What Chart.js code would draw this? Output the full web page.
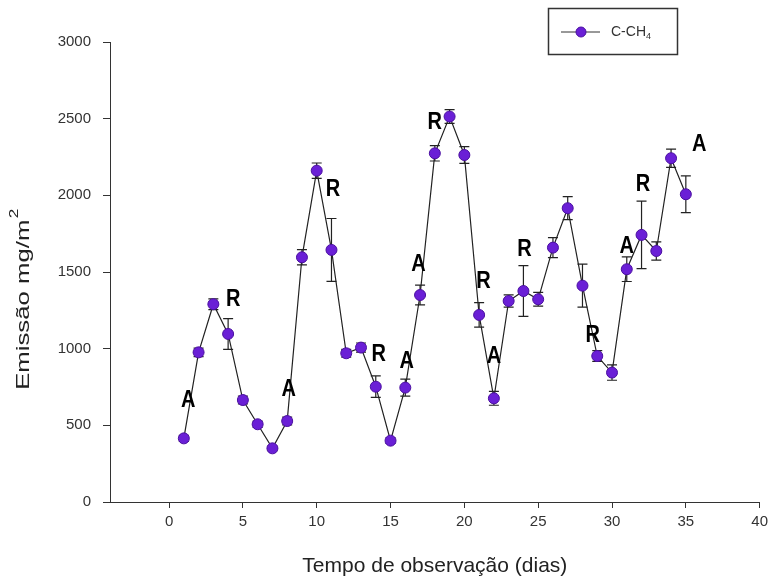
<!DOCTYPE html>
<html>
<head>
<meta charset="utf-8">
<script src="https://cdn.jsdelivr.net/npm/chart.js@4/dist/chart.umd.min.js"></script>
<style>
  html, body { margin: 0; padding: 0; background: #fff; }
  #wrap { width: 773px; height: 579px; }
</style>
</head>
<body>
<div id="wrap"><canvas id="chart" width="773" height="579"></canvas></div>
<script>
// dias de observação
const days = [1, 2, 3, 4, 5, 6, 7, 8, 9, 10, 11, 12, 13, 14, 15, 16, 17, 18,
  19, 20, 21, 22, 23, 24, 25, 26, 27, 28, 29, 30, 31, 32, 33, 34, 35];

// emissão de C-CH4 (mg/m2)
const emission = [415, 976, 1290, 1096, 665, 507, 350, 528, 1596, 2161, 1644,
  970, 1007, 752, 400, 746, 1350, 2274, 2514, 2263, 1220, 676, 1311, 1376, 1322,
  1659, 1916, 1411, 952, 844, 1518, 1742, 1637, 2242, 2007];

// desvio (barras de erro)
const errors = [20, 28, 35, 100, 25, 20, 15, 25, 50, 50, 205, 25, 30, 70, 18,
  55, 65, 50, 45, 55, 80, 45, 40, 165, 45, 65, 75, 140, 35, 50, 80, 220, 60, 60, 120];

// anotações A / R
const noteText = ['A', 'R', 'A', 'R', 'R', 'A', 'A', 'R', 'R', 'A', 'R', 'R', 'A', 'R', 'A'];
const noteX = [1.3, 4.35, 8.1, 11.1, 14.2, 16.1, 16.9, 18.0, 21.3, 22.0, 24.07, 28.7, 31.0, 32.1, 35.9];
const noteY = [665, 1322, 735, 2035, 963, 915, 1546, 2474, 1437, 948, 1644, 1089, 1665, 2072, 2329];

const xTicks = [0, 5, 10, 15, 20, 25, 30, 35, 40];

const markerColor = '#6a1fd6';
const markerEdge = '#4a0fa0';
const axisColor = '#333';
const fontFamily = '"Liberation Sans", Arial, sans-serif';

// barras de erro
const errorBars = {
  id: 'errorBars',
  beforeDatasetsDraw(chart) {
    const { ctx, scales: { x, y } } = chart;
    ctx.save();
    ctx.strokeStyle = '#222';
    ctx.lineWidth = 1.2;
    days.forEach((d, i) => {
      const px = x.getPixelForValue(d);
      const top = y.getPixelForValue(emission[i] + errors[i]);
      const bot = y.getPixelForValue(emission[i] - errors[i]);
      ctx.beginPath();
      ctx.moveTo(px, top); ctx.lineTo(px, bot);
      ctx.moveTo(px - 5, top); ctx.lineTo(px + 5, top);
      ctx.moveTo(px - 5, bot); ctx.lineTo(px + 5, bot);
      ctx.stroke();
    });
    ctx.restore();
  }
};

// textos: anotações, títulos dos eixos, legenda
const extras = {
  id: 'extras',
  afterDraw(chart) {
    const { ctx, scales: { x, y }, chartArea } = chart;
    ctx.save();

    // A / R
    ctx.fillStyle = '#000';
    ctx.font = 'bold 20px ' + fontFamily;
    ctx.textAlign = 'center';
    ctx.textBaseline = 'middle';
    noteText.forEach((t, i) => {
      ctx.save();
      ctx.translate(x.getPixelForValue(noteX[i]), y.getPixelForValue(noteY[i]));
      ctx.scale(1, 1.18);
      ctx.fillText(t, 0, 0);
      ctx.restore();
    });

    // título eixo x
    ctx.fillStyle = '#222';
    ctx.font = '21px ' + fontFamily;
    ctx.fillText('Tempo de observação (dias)', (chartArea.left + chartArea.right) / 2, 566);

    // título eixo y, com sobrescrito
    ctx.save();
    ctx.translate(24, 300);
    ctx.rotate(-Math.PI / 2);
    ctx.scale(1.43, 1);
    ctx.font = '18px ' + fontFamily;
    const main = 'Emissão mg/m';
    const wMain = ctx.measureText(main).width;
    ctx.font = '12px ' + fontFamily;
    const wSup = ctx.measureText('2').width;
    const start = -(wMain + wSup) / 2;
    ctx.textAlign = 'left';
    ctx.font = '18px ' + fontFamily;
    ctx.fillText(main, start, 0);
    ctx.font = '12px ' + fontFamily;
    ctx.fillText('2', start + wMain + 1, -9);
    ctx.restore();

    // legenda
    ctx.strokeStyle = axisColor;
    ctx.lineWidth = 1.5;
    ctx.strokeRect(548.5, 8.5, 129, 46);
    ctx.lineWidth = 1;
    ctx.beginPath();
    ctx.moveTo(561, 32); ctx.lineTo(600, 32);
    ctx.stroke();
    ctx.beginPath();
    ctx.arc(581, 32, 5, 0, Math.PI * 2);
    ctx.fillStyle = markerColor;
    ctx.fill();
    ctx.strokeStyle = markerEdge;
    ctx.stroke();
    ctx.fillStyle = axisColor;
    ctx.textAlign = 'left';
    ctx.font = '14px ' + fontFamily;
    ctx.fillText('C-CH', 611, 32);
    const wL = ctx.measureText('C-CH').width;
    ctx.font = '9px ' + fontFamily;
    ctx.fillText('4', 611 + wL, 37);

    ctx.restore();
  }
};

new Chart(document.getElementById('chart'), {
  type: 'scatter',
  data: {
    datasets: [{
      label: 'C-CH4',
      data: days.map((d, i) => ({ x: d, y: emission[i] })),
      showLine: true,
      borderColor: '#222',
      borderWidth: 1.2,
      pointRadius: 5.5,
      pointBackgroundColor: markerColor,
      pointBorderColor: markerEdge,
      pointBorderWidth: 1
    }]
  },
  options: {
    responsive: false,
    animation: false,
    layout: { padding: { left: 0, top: 42, right: 13, bottom: 0 } },
    plugins: {
      legend: { display: false },
      tooltip: { enabled: false }
    },
    scales: {
      x: {
        type: 'linear',
        min: -4,
        max: 40,
        afterBuildTicks: (scale) => {
          scale.ticks = xTicks.map(v => ({ value: v }));
        },
        afterFit: (scale) => { scale.height = 77; },
        ticks: {
          stepSize: 5,
          padding: 5,
          color: axisColor,
          font: { family: fontFamily, size: 15 },
          maxRotation: 0
        },
        grid: { drawOnChartArea: false, drawTicks: true, tickLength: 6, color: axisColor },
        border: { display: true, color: axisColor, width: 1 }
      },
      y: {
        min: 0,
        max: 3000,
        afterFit: (scale) => { scale.width = 110; },
        ticks: {
          stepSize: 500,
          padding: 12,
          color: axisColor,
          font: { family: fontFamily, size: 15 },
          callback: (v) => String(v)
        },
        grid: { drawOnChartArea: false, drawTicks: true, tickLength: 7, color: axisColor },
        border: { display: true, color: axisColor, width: 1 }
      }
    }
  },
  plugins: [errorBars, extras]
});
</script>
</body>
</html>
